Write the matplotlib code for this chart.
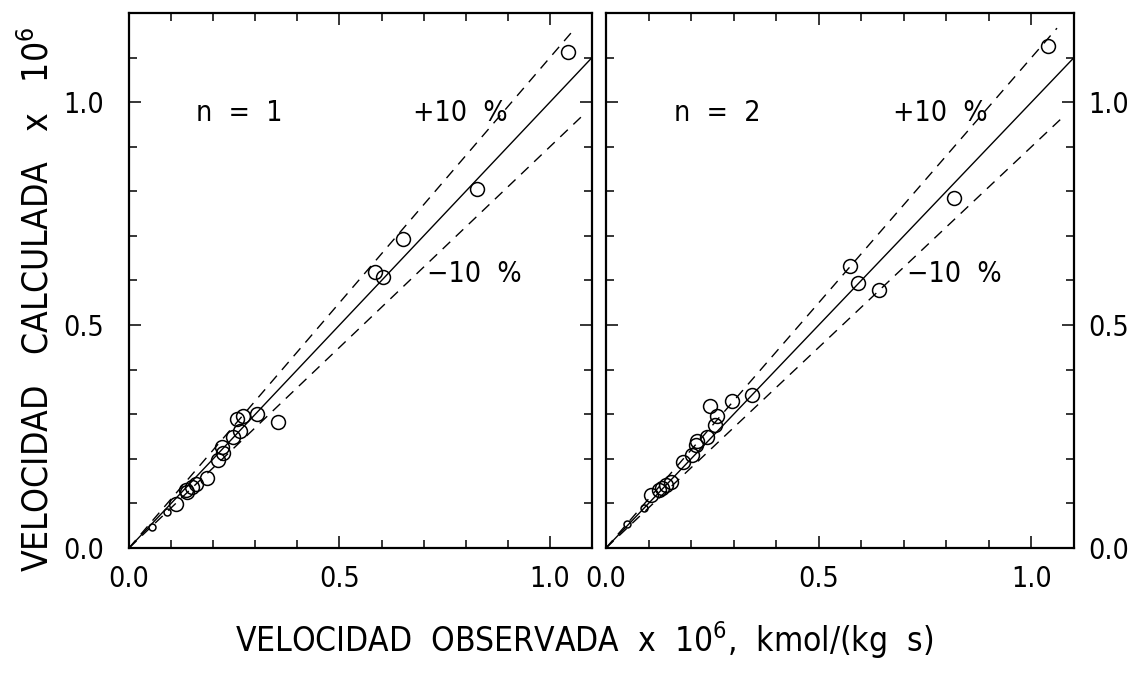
import matplotlib
matplotlib.use("Agg")
import matplotlib.pyplot as plt
from matplotlib import font_manager
from matplotlib.ticker import MultipleLocator, FixedLocator

# Prefer a narrow sans face when one is installed
narrow = None
for f in font_manager.fontManager.ttflist:
    nm = f.name.lower()
    st = str(f.stretch).lower()
    if ('narrow' in nm or 'condensed' in nm or 'condensed' in st) and f.style == 'normal' \
            and f.weight in (300, 400, 'normal', 'light', 'regular'):
        narrow = f
        break

if narrow is not None:
    plt.rcParams['font.family'] = [narrow.name, 'DejaVu Sans']
    plt.rcParams['font.stretch'] = narrow.stretch
else:
    plt.rcParams['font.family'] = ['Liberation Sans', 'DejaVu Sans']
plt.rcParams['mathtext.default'] = 'regular'

# Observed vs calculated rates (x 1e6), model n = 1
obs_n1 = [1.043, 0.827, 0.652, 0.584, 0.603, 0.355, 0.303, 0.272, 0.256, 0.264,
          0.246, 0.220, 0.223, 0.211, 0.186, 0.159, 0.149, 0.135, 0.137, 0.112]
calc_n1 = [1.113, 0.806, 0.693, 0.618, 0.608, 0.282, 0.301, 0.295, 0.290, 0.263,
           0.248, 0.227, 0.214, 0.197, 0.158, 0.143, 0.137, 0.130, 0.126, 0.098]
obs_n1_low = [0.090, 0.054]
calc_n1_low = [0.081, 0.047]

# Model n = 2
obs_n2 = [1.038, 0.819, 0.574, 0.592, 0.642, 0.343, 0.295, 0.244, 0.261, 0.256,
          0.238, 0.213, 0.211, 0.203, 0.180, 0.152, 0.142, 0.131, 0.125, 0.106]
calc_n2 = [1.126, 0.785, 0.633, 0.595, 0.579, 0.344, 0.329, 0.318, 0.297, 0.276,
           0.250, 0.240, 0.231, 0.209, 0.192, 0.147, 0.141, 0.134, 0.130, 0.119]
obs_n2_low = [0.090, 0.050]
calc_n2_low = [0.090, 0.053]

panels = [
    ("n  =  1", obs_n1, calc_n1, obs_n1_low, calc_n1_low),
    ("n  =  2", obs_n2, calc_n2, obs_n2_low, calc_n2_low),
]
x_ticks = [0.0, 0.5, 1.0]
x_ticklabels = ["0.0", "0.5", "1.0"]
band = 0.10

fig = plt.figure(figsize=(11.31, 6.74), dpi=100)
ax_rects = [
    [129 / 1131, 126 / 674, 463 / 1131, 535 / 674],
    [606 / 1131, 126 / 674, 468 / 1131, 535 / 674],
]

fs_tick = 20.5
for i, (rect, (tag, xo, yc, xl, yl)) in enumerate(zip(ax_rects, panels)):
    ax = fig.add_axes(rect)
    ax.set_xlim(0, 1.1)
    ax.set_ylim(0, 1.2)

    # parity line and +/-10 % band
    ax.plot([0, 1.1], [0, 1.1], color='black', lw=1.0)
    xu = 1.06
    ax.plot([0, xu], [0, (1 + band) * xu], color='black', lw=1.0,
            dashes=(7.5, 5.5))
    xd = 1.077
    ax.plot([0, xd], [0, (1 - band) * xd], color='black', lw=1.0,
            dashes=(7.5, 5.5))

    ax.plot(xo, yc, linestyle='none', marker='o', markersize=10,
            markerfacecolor='none', markeredgecolor='black', markeredgewidth=1.1)
    ax.plot(xl, yl, linestyle='none', marker='o', markersize=5,
            markerfacecolor='none', markeredgecolor='black', markeredgewidth=1.1)

    ax.text(0.16, 0.975, tag, fontsize=fs_tick, va='center', ha='left')
    ax.text(0.675, 0.975, "+10  %", fontsize=fs_tick, va='center', ha='left')
    ax.text(0.708, 0.615, "\u221210  %", fontsize=fs_tick, va='center', ha='left')

    for s in ax.spines.values():
        s.set_linewidth(1.6)

    ax.xaxis.set_major_locator(FixedLocator(x_ticks))
    ax.set_xticklabels(x_ticklabels)
    ax.xaxis.set_minor_locator(MultipleLocator(0.1))
    ax.yaxis.set_major_locator(MultipleLocator(0.5))
    ax.yaxis.set_minor_locator(MultipleLocator(0.1))
    ax.tick_params(which='both', direction='in', top=True, right=True,
                   left=True, bottom=True, width=1.1, labelsize=fs_tick)
    ax.tick_params(which='major', length=8.5)
    ax.tick_params(which='minor', length=6)
    ax.tick_params(axis='x', which='major', pad=12)
    if i == 0:
        ax.tick_params(axis='y', which='major', labelleft=True,
                       labelright=False, pad=18)
    else:
        ax.tick_params(axis='y', which='major', labelleft=False,
                       labelright=True, pad=10.5)

fig.text(584 / 1131, 0.032, "VELOCIDAD  OBSERVADA  x  10$^{6}$,  kmol/(kg  s)",
         fontsize=24, ha='center', va='baseline')
fig.text(37 / 1131, 0.556, "VELOCIDAD   CALCULADA   x   10$^{6}$",
         fontsize=25.5, ha='center', va='center', rotation=90)

fig.savefig("out.png", dpi=100, facecolor='white')
